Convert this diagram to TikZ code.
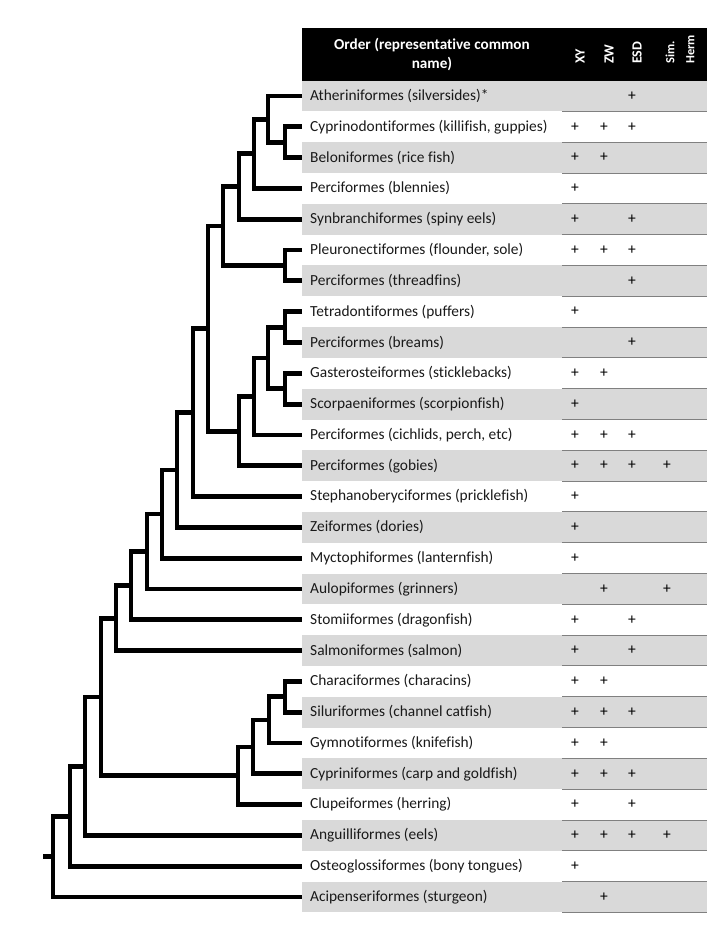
\documentclass[tikz,border=0pt]{standalone}
\usepackage{fontspec}
\setmainfont{Carlito}[Ligatures=NoCommon]
\usepackage{tikz}

\begin{document}
\begin{tikzpicture}[x=1pt, y=-1pt,
		branch/.style={line width=4.8pt, line join=miter},
		ordername/.style={anchor=west, inner sep=0pt, text=black!90, font=\fontsize{15.4}{17}\selectfont},
		plussign/.style={inner sep=0pt, font=\fontsize{15.5}{17}\selectfont},
		headtext/.style={inner sep=0pt, text=white, align=center, font=\bfseries\fontsize{15.2}{19}\selectfont},
		colhead/.style={rotate=90, anchor=west, inner sep=0pt, text=white, align=left, font=\bfseries\fontsize{14}{19}\selectfont},
		rowline/.style={line width=1pt, draw=black!50}]
	\useasboundingbox (0,0) rectangle (721,935);
	\fill[black] (302,28) rectangle (707,80.6);
	\foreach \i in {1,3,...,27}
		\fill[black!15] (302,{80.6+(\i-1)*30.81}) rectangle (707,{80.6+\i*30.81});
	\foreach \i in {1,...,27}
		\draw[rowline] (562,{80.6+\i*30.81}) -- (707,{80.6+\i*30.81});
	\node[headtext] (head)at(432, 55) {Order (representative common\\name)};
	\node[colhead] (xy)at(580, 64) {XY};
	\node[colhead] (zw)at(609, 64) {ZW};
	\node[colhead] (esd)at(637, 64) {ESD};
	\node[colhead, font=\bfseries\fontsize{12.5}{20}\selectfont] (herm)at(680, 64) {Sim.\\Herm};
	\foreach \i/\txt in {1/{Atheriniformes (silversides)*}, 2/{Cyprinodontiformes (killifish, guppies)},
			3/{Beloniformes (rice fish)}, 4/{Perciformes (blennies)}, 5/{Synbranchiformes (spiny eels)},
			6/{Pleuronectiformes (flounder, sole)}, 7/{Perciformes (threadfins)}, 8/{Tetradontiformes (puffers)},
			9/{Perciformes (breams)}, 10/{Gasterosteiformes (sticklebacks)}, 11/{Scorpaeniformes (scorpionfish)},
			12/{Perciformes (cichlids, perch, etc)}, 13/{Perciformes (gobies)}, 14/{Stephanoberyciformes (pricklefish)},
			15/{Zeiformes (dories)}, 16/{Myctophiformes (lanternfish)}, 17/{Aulopiformes (grinners)},
			18/{Stomiiformes (dragonfish)}, 19/{Salmoniformes (salmon)}, 20/{Characiformes (characins)},
			21/{Siluriformes (channel catfish)}, 22/{Gymnotiformes (knifefish)}, 23/{Cypriniformes (carp and goldfish)},
			24/{Clupeiformes (herring)}, 25/{Anguilliformes (eels)}, 26/{Osteoglossiformes (bony tongues)},
			27/{Acipenseriformes (sturgeon)}} {
		\node[ordername] (o\i)at(310,{96+(\i-1)*30.81}) {\txt};
		\coordinate (t\i)at(302,{96+(\i-1)*30.81});
	}
	\foreach \r/\c/\cx in {1/3/632, 2/1/575, 2/2/604, 2/3/632, 3/1/575, 3/2/604, 4/1/575, 5/1/575, 5/3/632,
			6/1/575, 6/2/604, 6/3/632, 7/3/632, 8/1/575, 9/3/632, 10/1/575, 10/2/604, 11/1/575,
			12/1/575, 12/2/604, 12/3/632, 13/1/575, 13/2/604, 13/3/632, 13/4/667, 14/1/575, 15/1/575,
			16/1/575, 17/2/604, 17/4/667, 18/1/575, 18/3/632, 19/1/575, 19/3/632, 20/1/575, 20/2/604,
			21/1/575, 21/2/604, 21/3/632, 22/1/575, 22/2/604, 23/1/575, 23/2/604, 23/3/632, 24/1/575,
			24/3/632, 25/1/575, 25/2/604, 25/3/632, 25/4/667, 26/1/575, 27/2/604}
		\node[plussign] (p\r-\c)at(\cx,{96+(\r-1)*30.81}) {+};
	\coordinate (n23)at(285, 142.2);
	\coordinate (n1)at(268, 119.1);
	\coordinate (n2)at(254, 153.8);
	\coordinate (n3)at(239, 186.5);
	\coordinate (n67)at(285, 265.5);
	\coordinate (n4)at(223, 226.0);
	\coordinate (n89)at(285, 327.1);
	\coordinate (n1011)at(285, 388.7);
	\coordinate (b1)at(268, 357.9);
	\coordinate (b2)at(254, 396.4);
	\coordinate (b3)at(239, 431.1);
	\coordinate (c0)at(208, 328.5);
	\coordinate (c1)at(193, 412.5);
	\coordinate (c2)at(177, 469.9);
	\coordinate (c3)at(162, 514.0);
	\coordinate (c4)at(147, 551.5);
	\coordinate (c5)at(131, 585.6);
	\coordinate (c6)at(116, 618.1);
	\coordinate (d1)at(285, 696.8);
	\coordinate (d2)at(269, 719.9);
	\coordinate (d3)at(253, 746.9);
	\coordinate (d4)at(238, 775.7);
	\coordinate (c7)at(101, 696.9);
	\coordinate (e)at(85, 766.2);
	\coordinate (f)at(70, 816.2);
	\coordinate (root)at(53, 856.7);
	\coordinate (stub)at(43, 856.7);
	\foreach \a/\p/\b in {t2/n23/t3, t1/n1/n23, n1/n2/t4, n2/n3/t5, t6/n67/t7, n3/n4/n67,
			t8/n89/t9, t10/n1011/t11, n89/b1/n1011, b1/b2/t12, b2/b3/t13, n4/c0/b3,
			c0/c1/t14, c1/c2/t15, c2/c3/t16, c3/c4/t17, c4/c5/t18, c5/c6/t19,
			t20/d1/t21, d1/d2/t22, d2/d3/t23, d3/d4/t24, c6/c7/d4, c7/e/t25, e/f/t26, f/root/t27}
		\draw[branch] (\a) -| (\p) |- (\b);
	\draw[branch] (stub) -- (root);
\end{tikzpicture}
\end{document}
